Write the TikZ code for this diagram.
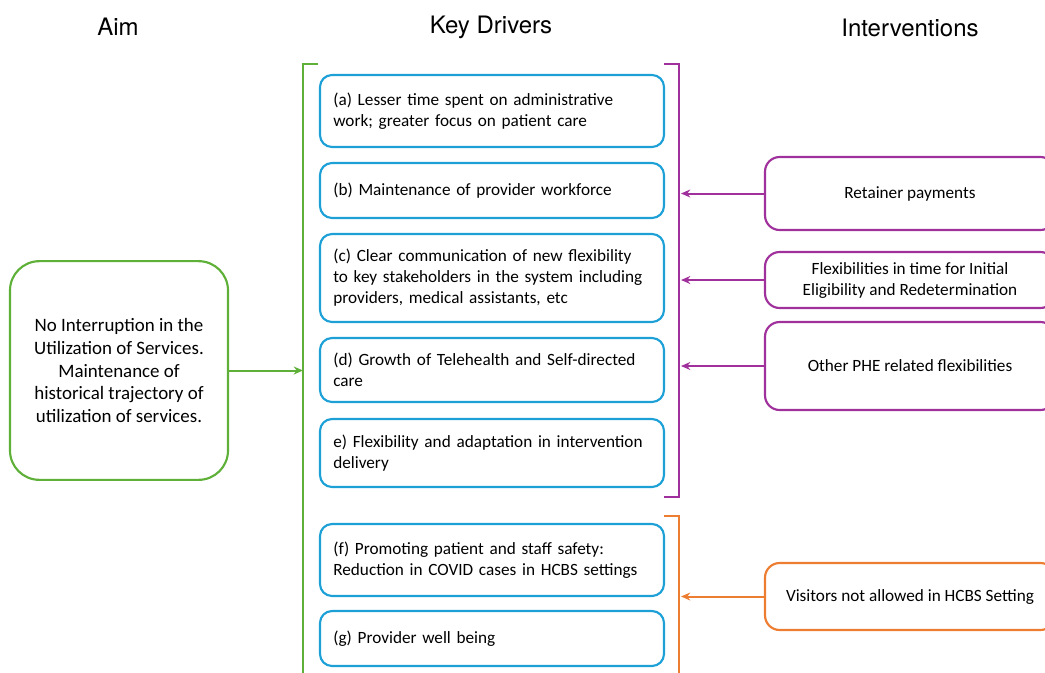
\documentclass[tikz,border=0pt]{standalone}
\usepackage{fontspec}
\setmainfont{Carlito}
\newfontfamily\headfont{TeX Gyre Heros}
\usetikzlibrary{arrows.meta}
\definecolor{aimgreen}{RGB}{94,176,56}
\definecolor{driverblue}{RGB}{28,160,214}
\definecolor{intpurple}{RGB}{160,48,155}
\definecolor{intorange}{RGB}{237,125,49}
\begin{document}
\begin{tikzpicture}[x=0.75pt,y=-0.75pt,
  heading/.style={font=\headfont\fontsize{18}{22}\selectfont},
  bodytext/.style={font=\fontsize{12.9}{15.75}\selectfont},
  driver/.style={bodytext,draw=driverblue,line width=1.6pt,rounded corners=9pt,
    minimum width=258pt,text width=238pt,inner xsep=10pt,align=left},
  intervention/.style={bodytext,draw=#1,line width=1.6pt,rounded corners=11pt,
    minimum width=217.5pt,align=center},
  aimbox/.style={draw=aimgreen,line width=1.6pt,rounded corners=22pt,
    minimum width=163.5pt,minimum height=164pt,align=center,
    font=\fontsize{14.2}{16.9}\selectfont},
  bracket/.style={line width=1.6pt},
  link/.style={line width=1.5pt,-{Stealth[length=7pt,width=6pt]}}]
\useasboundingbox (0,0) rectangle (1045,672);
\clip (0,0) rectangle (1045,672);

% column headings
\node[heading] (hAim) at (118,27) {Aim};
\node[heading] (hKey) at (491,27) {Key Drivers};
\node[heading] (hInt) at (910,28) {Interventions};

% aim
\node[aimbox] (aim) at (119,370.5) {No Interruption in the\\Utilization of Services.\\Maintenance of\\historical trajectory of\\utilization of services.};

% key drivers
\node[driver,minimum height=54pt] (a) at (492,111) {(a) Lesser time spent on administrative\\work; greater focus on patient care};
\node[driver,minimum height=41.25pt] (b) at (492,190.5) {(b) Maintenance of provider workforce};
\node[driver,minimum height=66pt] (c) at (492,278) {(c) Clear communication of new flexibility\\to key stakeholders in the system including\\providers, medical assistants, etc};
\node[driver,minimum height=48pt] (d) at (492,370) {(d) Growth of Telehealth and Self-directed\\care};
\node[driver,minimum height=51pt] (e) at (492,453) {e) Flexibility and adaptation in intervention\\delivery};
\node[driver,minimum height=54pt] (f) at (492,560) {(f) Promoting patient and staff safety:\\Reduction in COVID cases in HCBS settings};
\node[driver,minimum height=41.25pt] (g) at (492,638.5) {(g) Provider well being};

% brackets grouping the drivers
\coordinate (gTop) at (303,64);
\coordinate (gBot) at (303,690);
\draw[bracket,aimgreen] (318,64) -- (gTop) -- (gBot);
\coordinate (pTop) at (679,64);
\coordinate (pBot) at (679,497);
\draw[bracket,intpurple] (664,64) -- (pTop) -- (pBot) -- (664,497);
\coordinate (oTop) at (679,516);
\coordinate (oBot) at (679,690);
\draw[bracket,intorange] (664,516) -- (oTop) -- (oBot);

% interventions
\node[intervention=intpurple,minimum height=54.75pt] (i1) at (910,193.5) {Retainer payments};
\node[intervention=intpurple,minimum height=42pt] (i2) at (910,280) {Flexibilities in time for Initial\\Eligibility and Redetermination};
\node[intervention=intpurple,minimum height=66pt] (i3) at (910,366) {Other PHE related flexibilities};
\node[intervention=intorange,minimum height=50.25pt] (i4) at (910,596.5) {Visitors not allowed in HCBS Setting};

% connectors
\draw[link,aimgreen] (aim.east) -- (aim.east -| gTop);
\draw[link,intpurple] (i1.west) -- ([xshift=1.5pt]i1.west -| pTop);
\draw[link,intpurple] (i2.west) -- ([xshift=1.5pt]i2.west -| pTop);
\draw[link,intpurple] (i3.west) -- ([xshift=1.5pt]i3.west -| pTop);
\draw[link,intorange] (i4.west) -- ([xshift=1.5pt]i4.west -| oTop);
\end{tikzpicture}
\end{document}
